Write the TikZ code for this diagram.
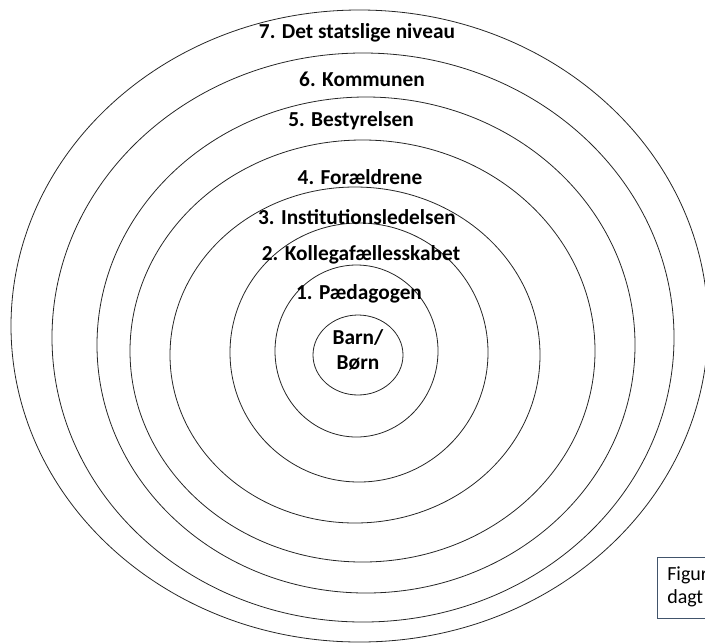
\documentclass[tikz,border=0pt]{standalone}
\usepackage{fontspec}
\setmainfont{Carlito}
\definecolor{boxline}{RGB}{65,84,107}
\begin{document}
\begin{tikzpicture}[x=0.75pt, y=0.75pt, ring/.style={draw=black!85, line width=0.6pt},
    lvl node/.style={font=\fontsize{16}{19}\selectfont\bfseries, inner sep=1pt},
    note node/.style={font=\fontsize{15}{17}\selectfont, anchor=west, inner sep=0pt}]

                \useasboundingbox (0,0) rectangle (705,-643);
                \clip (0,0) rectangle (705,-643);

                % rings, from the child outwards
                \draw[ring] (358,-355) ellipse [x radius=45, y radius=40];
                \draw[ring] (356.5,-351) ellipse [x radius=81.5, y radius=86];
                \draw[ring] (359,-352.5) ellipse [x radius=129, y radius=129.5];
                \draw[ring] (355,-355) ellipse [x radius=185, y radius=168];
                \draw[ring] (362.5,-351) ellipse [x radius=232.5, y radius=211];
                \draw[ring] (366,-345) ellipse [x radius=269, y radius=248];
                \draw[ring] (363,-337.5) ellipse [x radius=311, y radius=284.5];
                \draw[ring] (359.5,-326) ellipse [x radius=348.5, y radius=316];

                \node[lvl node, align=center, font=\fontsize{16}{19}\selectfont\bfseries] at (358,-350) (barn) {Barn/\\Børn};
                \node[lvl node] at (359,-294) (paed) {1. Pædagogen};
                \node[lvl node] at (361,-255) (koll) {2. Kollegafællesskabet};
                \node[lvl node] at (357,-217) (inst) {3. Institutionsledelsen};
                \node[lvl node] at (360,-177) (foraeld) {4. Forældrene};
                \node[lvl node] at (351,-121) (best) {5. Bestyrelsen};
                \node[lvl node] at (362,-79) (komm) {6. Kommunen};
                \node[lvl node] at (357,-33) (stat) {7. Det statslige niveau};

                \draw[draw=boxline, line width=0.6pt] (657,-557) rectangle (760,-618);
                \node[note node] at (667,-575) (fig) {Figur};
                \node[note node] at (667,-598) (dagt) {dagt};
            \end{tikzpicture}
\end{document}
